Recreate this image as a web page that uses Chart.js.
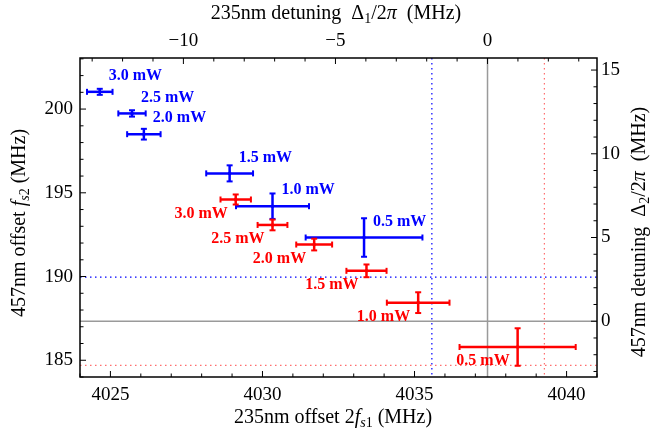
<!DOCTYPE html>
<html>
<head>
<meta charset="utf-8">
<script src="https://cdn.jsdelivr.net/npm/chart.js@4/dist/chart.umd.min.js"></script>
<style>
  html, body { margin: 0; padding: 0; background: #fff; }
</style>
</head>
<body>
<canvas id="chart" width="654" height="440"></canvas>
<script>
// power labels (same order for both series)
const powerLabels = ['3.0 mW', '2.5 mW', '2.0 mW', '1.5 mW', '1.0 mW', '0.5 mW'];

// blue series: 235nm offset 2f_s1 vs 457nm offset f_s2 (MHz)
const blueX = [4024.65, 4025.71, 4026.10, 4028.92, 4030.33, 4033.34];
const blueY = [201.03, 199.74, 198.50, 196.16, 194.20, 192.33];
const blueXErr = [0.42, 0.45, 0.55, 0.77, 1.20, 1.92];
const blueYErr = [0.18, 0.19, 0.32, 0.48, 0.76, 1.15];

// red series
const redX = [4029.12, 4030.33, 4031.70, 4033.42, 4035.12, 4038.39];
const redY = [194.60, 193.08, 191.91, 190.34, 188.44, 185.79];
const redXErr = [0.50, 0.49, 0.59, 0.66, 1.03, 1.91];
const redYErr = [0.30, 0.32, 0.35, 0.38, 0.62, 1.12];

// zero detuning references and extrapolated lines
const det1Zero = 4037.4;   // 2f_s1 where Δ1 = 0
const det2Zero = 187.33;   // f_s2 where Δ2 = 0
const blueRefX = 4035.57;
const blueRefY = 189.96;
const redRefX = 4039.27;
const redRefY = 184.70;

// axis ranges and tick labels
const xMin = 4024, xMax = 4041;
const yMin = 184, yMax = 203.05;
const xTicks = [4025, 4030, 4035, 4040];
const yTicks = [185, 190, 195, 200];
const topTicks = [-10, -5, 0];
const rightTicks = [0, 5, 10, 15];

const serif = '"Liberation Serif", "Times New Roman", serif';
const BLUE = '#0000ff';
const RED = '#ff0000';

function toPoints(xs, ys) {
  return xs.map((x, i) => ({ x: x, y: ys[i] }));
}

function minus(v) {
  return v < 0 ? '\u2212' + Math.abs(v) : String(v);
}

// rich text: parts with optional italic / subscript
function drawRich(ctx, parts, cx, cy, rot) {
  const size = 20;
  const subSize = 14;
  const fontFor = p => (p.i ? 'italic ' : '') + (p.sub ? subSize : size) + 'px ' + serif;
  let total = 0;
  parts.forEach(p => { ctx.font = fontFor(p); total += ctx.measureText(p.t).width; });
  ctx.save();
  ctx.translate(cx, cy);
  ctx.rotate(rot || 0);
  ctx.fillStyle = '#000';
  ctx.textBaseline = 'alphabetic';
  ctx.textAlign = 'left';
  let x = -total / 2;
  parts.forEach(p => {
    ctx.font = fontFor(p);
    ctx.fillText(p.t, x, 6 + (p.sub ? 4 : 0));
    x += ctx.measureText(p.t).width;
  });
  ctx.restore();
}

function line(ctx, x1, y1, x2, y2) {
  ctx.beginPath();
  ctx.moveTo(x1, y1);
  ctx.lineTo(x2, y2);
  ctx.stroke();
}

function drawErrorBars(ctx, xs, ys, ex, ey, sx, sy, color) {
  ctx.save();
  ctx.strokeStyle = color;
  ctx.lineWidth = 2.5;
  ctx.lineCap = 'butt';
  const cap = 3;
  xs.forEach((x, i) => {
    const px = sx.getPixelForValue(x);
    const py = sy.getPixelForValue(ys[i]);
    const l = sx.getPixelForValue(x - ex[i]);
    const r = sx.getPixelForValue(x + ex[i]);
    const t = sy.getPixelForValue(ys[i] + ey[i]);
    const b = sy.getPixelForValue(ys[i] - ey[i]);
    line(ctx, l, py, r, py);
    line(ctx, px, t, px, b);
    ctx.lineWidth = 2;
    line(ctx, l, py - cap, l, py + cap);
    line(ctx, r, py - cap, r, py + cap);
    line(ctx, px - cap, t, px + cap, t);
    line(ctx, px - cap, b, px + cap, b);
    ctx.lineWidth = 2.5;
  });
  ctx.restore();
}

const decorPlugin = {
  id: 'decor',
  beforeDatasetsDraw(chart) {
    const { ctx, chartArea: a, scales } = chart;
    ctx.save();
    ctx.beginPath();
    ctx.rect(a.left, a.top, a.right - a.left, a.bottom - a.top);
    ctx.clip();

    // zero detuning lines
    ctx.strokeStyle = '#9a9a9a';
    ctx.lineWidth = 1.5;
    const zx = scales.x.getPixelForValue(det1Zero);
    const zy = scales.y.getPixelForValue(det2Zero);
    line(ctx, zx, a.top, zx, a.bottom);
    line(ctx, a.left, zy, a.right, zy);

    // dotted reference lines
    ctx.lineWidth = 1.2;
    ctx.setLineDash([1.5, 3.5]);
    ctx.strokeStyle = BLUE;
    let px = scales.x.getPixelForValue(blueRefX);
    let py = scales.y.getPixelForValue(blueRefY);
    line(ctx, px, a.top, px, a.bottom);
    line(ctx, a.left, py, a.right, py);
    ctx.strokeStyle = 'rgba(255,60,60,0.75)';
    px = scales.x.getPixelForValue(redRefX);
    py = scales.y.getPixelForValue(redRefY);
    line(ctx, px, a.top, px, a.bottom);
    line(ctx, a.left, py, a.right, py);
    ctx.restore();
  },
  afterDatasetsDraw(chart) {
    const { ctx, scales } = chart;
    drawErrorBars(ctx, blueX, blueY, blueXErr, blueYErr, scales.x, scales.y, BLUE);
    drawErrorBars(ctx, redX, redY, redXErr, redYErr, scales.x, scales.y, RED);

    ctx.save();
    ctx.font = 'bold 16px ' + serif;
    ctx.textBaseline = 'middle';
    ctx.fillStyle = BLUE;
    ctx.textAlign = 'left';
    powerLabels.forEach((lab, i) => {
      ctx.fillText(lab, scales.x.getPixelForValue(blueX[i]) + 9, scales.y.getPixelForValue(blueY[i]) - 16);
    });
    ctx.fillStyle = RED;
    ctx.textAlign = 'right';
    powerLabels.forEach((lab, i) => {
      ctx.fillText(lab, scales.x.getPixelForValue(redX[i]) - 8, scales.y.getPixelForValue(redY[i]) + 14);
    });
    ctx.restore();
  },
  afterDraw(chart) {
    const { ctx, chartArea: a, scales } = chart;
    ctx.save();
    ctx.strokeStyle = '#000';
    ctx.lineWidth = 1.5;
    ctx.strokeRect(a.left, a.top, a.right - a.left, a.bottom - a.top);

    // inward ticks, major every 5, minor every 1
    ctx.lineWidth = 1;
    const tickLen = v => (Math.abs(v % 5) < 1e-9 ? 6 : 3.5);
    for (let v = Math.ceil(scales.x.min); v <= scales.x.max; v++) {
      const p = scales.x.getPixelForValue(v);
      line(ctx, p, a.bottom, p, a.bottom - tickLen(v));
    }
    for (let v = Math.ceil(scales.x2.min); v <= scales.x2.max; v++) {
      const p = scales.x2.getPixelForValue(v);
      line(ctx, p, a.top, p, a.top + tickLen(v));
    }
    for (let v = Math.ceil(scales.y.min); v <= scales.y.max; v++) {
      const p = scales.y.getPixelForValue(v);
      line(ctx, a.left, p, a.left + tickLen(v), p);
    }
    for (let v = Math.ceil(scales.y2.min); v <= scales.y2.max; v++) {
      const p = scales.y2.getPixelForValue(v);
      line(ctx, a.right, p, a.right - tickLen(v), p);
    }
    ctx.restore();

    // axis titles
    drawRich(ctx, [
      { t: '235nm offset 2' }, { t: 'f', i: true }, { t: 's', i: true, sub: true }, { t: '1', sub: true }, { t: ' (MHz)' }
    ], 333, 417, 0);
    drawRich(ctx, [
      { t: '235nm detuning  \u0394' }, { t: '1', sub: true }, { t: '/2' }, { t: '\u03c0', i: true }, { t: '  (MHz)' }
    ], 336, 13, 0);
    drawRich(ctx, [
      { t: '457nm offset ' }, { t: 'f', i: true }, { t: 's', i: true, sub: true }, { t: '2', sub: true }, { t: ' (MHz)' }
    ], 19, 223, -Math.PI / 2);
    drawRich(ctx, [
      { t: '457nm detuning  \u0394' }, { t: '2', sub: true }, { t: '/2' }, { t: '\u03c0', i: true }, { t: '  (MHz)' }
    ], 639, 232, -Math.PI / 2);
  }
};

const tickFont = { family: serif, size: 19 };

function axis(position, min, max, values, size, pad, fmt) {
  return {
    type: 'linear',
    position: position,
    min: min,
    max: max,
    grid: { display: false, drawTicks: false },
    border: { display: false },
    title: { display: false },
    afterBuildTicks: s => { s.ticks = values.map(v => ({ value: v })); },
    afterFit: s => {
      if (position === 'left' || position === 'right') s.width = size; else s.height = size;
    },
    ticks: {
      font: tickFont,
      color: '#000',
      padding: pad,
      autoSkip: false,
      maxRotation: 0,
      callback: fmt || (v => String(v))
    }
  };
}

const chart = new Chart(document.getElementById('chart').getContext('2d'), {
  type: 'scatter',
  data: {
    datasets: [
      {
        label: 'blue',
        data: toPoints(blueX, blueY),
        backgroundColor: BLUE,
        borderColor: BLUE,
        pointRadius: 1.8,
        pointBorderWidth: 0
      },
      {
        label: 'red',
        data: toPoints(redX, redY),
        backgroundColor: RED,
        borderColor: RED,
        pointRadius: 1.8,
        pointBorderWidth: 0
      }
    ]
  },
  options: {
    responsive: false,
    animation: false,
    layout: { padding: 0 },
    plugins: {
      legend: { display: false },
      tooltip: { enabled: false }
    },
    scales: {
      x: axis('bottom', xMin, xMax, xTicks, 63, 7),
      x2: axis('top', xMin - det1Zero, xMax - det1Zero, topTicks, 58, 6, minus),
      y: axis('left', yMin, yMax, yTicks, 80, 7),
      y2: axis('right', yMin - det2Zero, yMax - det2Zero, rightTicks, 57, 4)
    }
  },
  plugins: [decorPlugin]
});
</script>
</body>
</html>
